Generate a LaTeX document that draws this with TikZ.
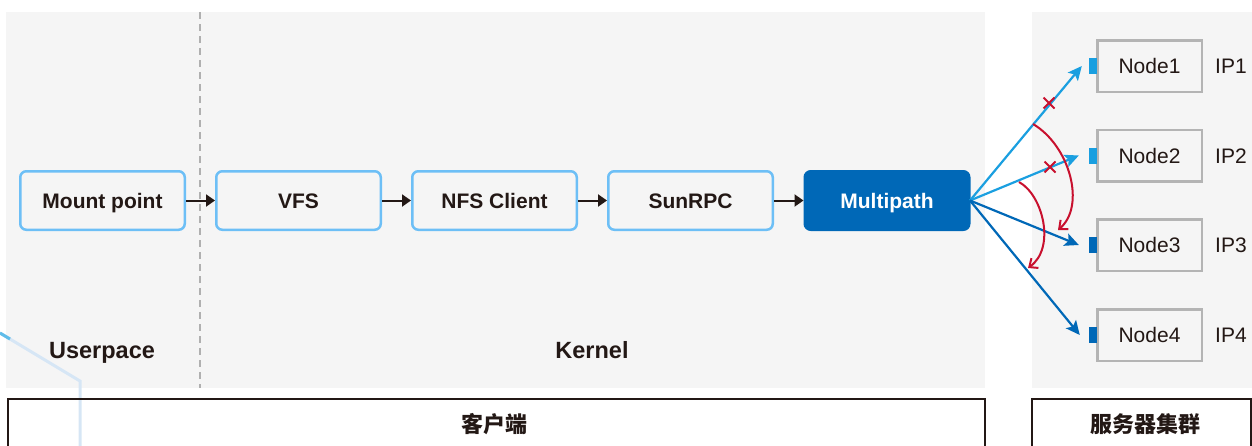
\documentclass[tikz,border=0pt]{standalone}
\usepackage{fontspec}
\setmainfont{Liberation Sans}
\newfontfamily\cjk{Noto Sans CJK SC}
\usetikzlibrary{arrows.meta,shapes.misc}
\definecolor{panel}{HTML}{F5F5F5}
\definecolor{ink}{HTML}{231815}
\definecolor{boxline}{HTML}{6DBFF6}
\definecolor{mpblue}{HTML}{0068B7}
\definecolor{lblue}{HTML}{1A9FE0}
\definecolor{alertred}{HTML}{C8102E}
\definecolor{nodeline}{HTML}{B4B4B4}
\definecolor{sepgray}{HTML}{B0B0B0}
\definecolor{decoblue}{HTML}{D6E6F5}

\begin{document}
\begin{tikzpicture}[x=1pt,y=-1pt,
  stagebox/.style={draw=boxline, line width=2.5pt, rounded corners=6pt, fill=panel,
    minimum width=164.5pt, minimum height=58.5pt, inner sep=0pt, text=ink,
    text height=15pt, text depth=0pt,
    font=\fontsize{21}{25}\selectfont\bfseries},
  mpbox/.style={stagebox, draw=mpblue, fill=mpblue, text=white},
  flow/.style={draw=ink, line width=2pt, -{Triangle[length=9pt,width=12pt]}},
  server/.style={draw=nodeline, line width=2.5pt, fill=panel,
    minimum width=104.5pt, minimum height=51.5pt, inner sep=0pt, text=ink,
    text height=15pt, text depth=0pt,
    font=\fontsize{21}{25}\selectfont},
  port/.style={minimum width=8pt, minimum height=16pt, inner sep=0pt},
  iplabel/.style={anchor=west, inner sep=0pt, text=ink, text height=15pt, text depth=0pt,
    font=\fontsize{21}{25}\selectfont},
  fan/.style={line width=2.2pt, -{Stealth[length=14pt,width=13pt,inset=3pt]}},
  retry/.style={draw=alertred, line width=2pt, -{Straight Barb[length=7pt,width=12pt]}},
  fail/.style={cross out, draw=alertred, line width=2pt, minimum size=9pt, inner sep=0pt},
  zone/.style={text=ink, inner sep=0pt, text height=17pt, text depth=0pt,
    font=\fontsize{23.5}{28}\selectfont\bfseries},
  frame/.style={draw=ink, line width=2pt},
  framelabel/.style={text=ink, inner sep=0pt, font=\fontsize{22}{26}\selectfont\cjk\bfseries}]

\useasboundingbox (0,0) rectangle (1252,445);

% background panels
\fill[panel] (6,12) rectangle (985,388);
\fill[panel] (1032,12) rectangle (1252,388);

% user space / kernel divider
\draw[sepgray, line width=1.5pt, dash pattern=on 7pt off 5pt] (200,12) -- (200,388);

% decorative stroke in the lower left corner
\draw[decoblue, line width=3pt] (0,333) -- (80,381) -- (80,447);
\draw[lblue!70, line width=3pt] (0,333) -- (10,339);

% client-side stages
\node[stagebox] (mount) at (102.5,200.5) {Mount point};
\node[stagebox] (vfs)   at (298.5,200.5) {VFS};
\node[stagebox] (nfs)   at (494.5,200.5) {NFS Client};
\node[stagebox] (rpc)   at (690.5,200.5) {SunRPC};
\node[mpbox]    (mp)    at (887,200.5)   {Multipath};

\draw[flow] (mount) -- (vfs);
\draw[flow] (vfs) -- (nfs);
\draw[flow] (nfs) -- (rpc);
\draw[flow] (rpc) -- (mp);

\node[zone] (user) at (102,350) {Userpace};
\node[zone] (kern) at (592,350) {Kernel};

% server cluster
\node[server] (n1) at (1149.5,66)    {Node1};
\node[server] (n2) at (1149.5,155.5) {Node2};
\node[server] (n3) at (1149.5,245)   {Node3};
\node[server] (n4) at (1149.5,335)   {Node4};

\node[port, fill=lblue]  (p1) at (1093,66)    {};
\node[port, fill=lblue]  (p2) at (1093,155.5) {};
\node[port, fill=mpblue] (p3) at (1093,245)   {};
\node[port, fill=mpblue] (p4) at (1093,335)   {};

\node[iplabel] (ip1) at (1215,66)    {IP1};
\node[iplabel] (ip2) at (1215,155.5) {IP2};
\node[iplabel] (ip3) at (1215,245)   {IP3};
\node[iplabel] (ip4) at (1215,335)   {IP4};

% paths from multipath to each node
\coordinate (o) at (970,200.5);
\draw[fan, lblue]  (o) -- ([xshift=-7pt]p1.west);
\draw[fan, lblue]  (o) -- ([xshift=-10pt]p2.west);
\draw[fan, mpblue] (o) -- ([xshift=-10pt]p3.west);
\draw[fan, mpblue] (o) -- ([xshift=-9pt]p4.west);

% failed paths
\node[fail] (x1) at (1049,103) {};
\node[fail] (x2) at (1050,167) {};

% failover
\coordinate (s1) at (1033,124);
\coordinate (e1) at (1058,230);
\coordinate (s2) at (1019,182);
\coordinate (e2) at (1028,268);
\draw[retry] (s1) .. controls (1070,146) and (1086,206) .. (e1);
\draw[retry] (s2) .. controls (1043,195) and (1056,248) .. (e2);

% bottom frames
\draw[frame] (8,447) -- (8,399) -- (985,399) -- (985,447);
\draw[frame] (1032,447) -- (1032,399) -- (1251,399) -- (1251,447);
\node[framelabel] (client) at (494,424) {客户端};
\node[framelabel] (cluster) at (1145,424) {服务器集群};

\end{tikzpicture}
\end{document}
